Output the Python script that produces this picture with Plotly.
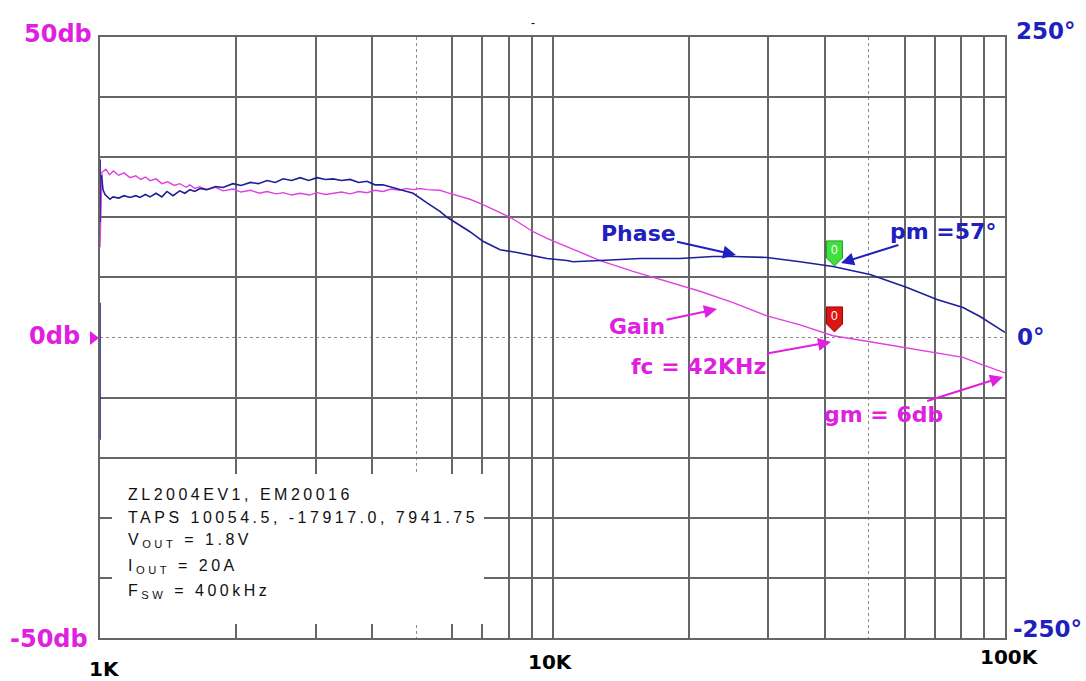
import math
import plotly.graph_objects as go

# ---------------- data ----------------
gain_freq_hz = [1000, 1000, 1010, 1030, 1050, 1070, 1100, 1130, 1165, 1200, 1230, 1260, 1290, 1330,
                1370, 1410, 1460, 1500, 1550, 1580, 1620, 1660, 1720, 1800, 1870, 1970, 2050, 2150,
                2250, 2340, 2450, 2540, 2650, 2770, 2900, 3020, 3150, 3270, 3420, 3570, 3730, 3890,
                4050, 4220, 4400, 4600, 4750, 4920, 5100, 5280, 5640, 5850, 6200, 6570, 7020, 7660,
                8060, 8350, 9060, 9720, 10760, 11100, 12740, 15070, 17900, 21180, 25060, 29790,
                35240, 41690, 50310, 60740, 70750, 80760, 88070, 100000]
gain_db = [29.6, 15.0, 27.5, 28.0, 27.1, 27.7, 27.0, 27.4, 26.6, 26.9, 26.3, 26.7, 26.1, 26.4,
           25.6, 25.9, 25.3, 25.6, 25.0, 25.4, 24.8, 25.1, 24.6, 25.0, 24.4, 24.7, 24.2, 24.5,
           24.0, 24.3, 23.9, 24.1, 23.7, 24.0, 23.7, 24.1, 23.8, 24.0, 24.2, 23.9, 24.3, 24.1,
           24.5, 24.3, 24.7, 24.5, 24.8, 24.6, 24.8, 24.6, 24.5, 24.1, 23.6, 23.0, 22.1, 20.8,
           20.0, 19.3, 17.6, 16.5, 15.1, 14.6, 12.8, 11.0, 9.3, 7.7, 5.8, 3.6,
           2.1, 0.3, -0.7, -1.7, -2.5, -3.3, -4.4, -5.9]

phase_freq_hz = [1000, 1000, 1000, 1000, 1000, 1000, 1008, 1015, 1026, 1052, 1068, 1100, 1130, 1165,
                 1200, 1226, 1260, 1290, 1330, 1370, 1406, 1450, 1500, 1540, 1581, 1620, 1663, 1720,
                 1800, 1870, 1967, 2050, 2150, 2240, 2340, 2440, 2540, 2650, 2770, 2890, 3020, 3150,
                 3270, 3420, 3570, 3730, 3890, 4050, 4220, 4400, 4600, 4920, 5280, 5640, 5850, 6570,
                 7020, 7660, 8350, 9060, 9720, 10760, 11100, 12740, 15610, 19130, 22630, 25060,
                 29790, 35240, 41690, 50310, 60740, 70750, 80760, 88070, 100000]
phase_deg = [148, 96, None, 29, -85, None, 135, 123, 119, 115, 117, 116, 118, 116.5,
             118, 116.5, 119, 117, 120, 117, 121.5, 118, 122, 120, 123, 121.5, 124, 123,
             125.6, 124.8, 128, 126.5, 129, 128, 130.6, 129, 132, 130.6, 133, 130.6, 133, 131.5,
             132, 130.6, 131.5, 129, 130, 127, 127, 125, 123, 120, 112, 105, 100, 88,
             80, 73, 70.7, 68, 65.7, 64, 63, 64, 65.7, 65.7, 67.4, 67.4,
             66.6, 63, 59, 52.4, 41.6, 31.6, 25, 17.5, 4.2]

x_tick_freqs = [1000, 10000, 100000]
x_tick_labels = ["1K", "10K", "100K"]
gain_tick_vals = [50, 0, -50]
gain_tick_labels = ["50db", "0db", "-50db"]
phase_tick_vals = [250, 0, -250]
phase_tick_labels = ["250°", "0°", "-250°"]

info_lines = ["ZL2004EV1, EM20016",
              "TAPS 10054.5, -17917.0, 7941.75",
              "V<sub>OUT</sub> = 1.8V",
              "I<sub>OUT</sub> = 20A",
              "F<sub>SW</sub> = 400kHz"]

fc_hz = 42000

# ---------------- layout geometry ----------------
W, H = 1086, 681
ML, MR, MT, MB = 100, 81, 37, 43
PW, PH = W - ML - MR, H - MT - MB

def px(xp):
    return (xp - ML) / PW

def py(yp):
    return (H - MB - yp) / PH

MAG = "#E020E0"
MAG_LINE = "#E040E0"
BLUE = "#2020C0"
NAVY = "#1E1E98"
GRID = "#666666"
FONT = "DejaVu Sans"

fig = go.Figure()
fig.add_trace(go.Scatter(x=phase_freq_hz, y=phase_deg, yaxis="y2", mode="lines",
                         line=dict(color=NAVY, width=1.6), name="Phase", connectgaps=False))
fig.add_trace(go.Scatter(x=gain_freq_hz, y=gain_db, mode="lines",
                         line=dict(color=MAG_LINE, width=1.4), name="Gain"))

x_major = [2000, 3000, 4000, 6000, 7000, 8000, 9000, 10000,
           20000, 30000, 40000, 60000, 70000, 80000, 90000]
y_major = [-40, -30, -20, -10, 10, 20, 30, 40]

fig.update_layout(
    width=W, height=H, showlegend=False,
    margin=dict(l=ML, r=MR, t=MT, b=MB, autoexpand=False),
    paper_bgcolor="white", plot_bgcolor="white",
    xaxis=dict(type="log", range=[3, 5], showticklabels=False, ticks="",
               tickmode="array", tickvals=x_major, showgrid=True, gridcolor=GRID, gridwidth=1.6,
               zeroline=False, showline=True, mirror=True, linecolor=GRID, linewidth=1.6,
               minor=dict(tickmode="array", tickvals=[5000, 50000], showgrid=True,
                          griddash="dot", gridcolor="#8a8a8a", gridwidth=1, ticks="")),
    yaxis=dict(range=[-50, 50], showticklabels=False, ticks="", tickmode="array",
               tickvals=y_major, showgrid=True, gridcolor=GRID, gridwidth=1.6, zeroline=False,
               showline=True, mirror=True, linecolor=GRID, linewidth=1.6,
               minor=dict(tickmode="array", tickvals=[0], showgrid=True, griddash="dot",
                          gridcolor="#8a8a8a", gridwidth=1, ticks="")),
    yaxis2=dict(range=[-250, 250], overlaying="y", side="right", showgrid=False,
                showticklabels=False, ticks="", zeroline=False, showline=False),
)

shapes = []
annotations = []

# white info box covering the grid
shapes.append(dict(type="rect", xref="paper", yref="paper", x0=px(112), x1=px(484),
                   y0=py(624), y1=py(474), fillcolor="white", line=dict(width=0), layer="above"))

info_y = [494, 517, 540, 566, 591]
for t, yy in zip(info_lines, info_y):
    annotations.append(dict(text=t, align="left",
                            xref="paper", yref="paper", x=px(126), y=py(yy),
                            xanchor="left", yanchor="middle", showarrow=False,
                            font=dict(family="Liberation Sans", size=16, color="#111111")))
n_info = len(info_lines)

# axis labels
x_shift = [4, -2, 4]
x_label_y = [669, 662, 657]
for f, lab, sh, yy in zip(x_tick_freqs, x_tick_labels, x_shift, x_label_y):
    annotations.append(dict(text=lab, xref="x", yref="paper", x=math.log10(f), y=py(yy),
                            xshift=sh, xanchor="center", yanchor="middle", showarrow=False,
                            font=dict(family=FONT, size=20, color="black", weight="bold")))

gain_right = [94, 82, 90]
gain_shift = [3, 2, -1]
for v, lab, r, sh in zip(gain_tick_vals, gain_tick_labels, gain_right, gain_shift):
    annotations.append(dict(text=lab, xref="paper", yref="y", x=px(r), y=v, yshift=sh,
                            xanchor="right", yanchor="middle", showarrow=False,
                            font=dict(family=FONT, size=24, color=MAG, weight="bold")))

phase_left = [1014, 1015, 1011]
phase_shift = [6, 1, 9]
for v, lab, l, sh in zip(phase_tick_vals, phase_tick_labels, phase_left, phase_shift):
    annotations.append(dict(text=lab, xref="paper", yref="y2", x=px(l), y=v, yshift=sh,
                            xanchor="left", yanchor="middle", showarrow=False,
                            font=dict(family=FONT, size=23, color=BLUE, weight="bold")))

# 0db pointer triangle
shapes.append(dict(type="path", xref="paper", yref="paper",
                   path=f"M {px(90)},{py(331)} L {px(99)},{py(338)} L {px(90)},{py(345)} Z",
                   fillcolor=MAG, line=dict(width=0)))

# curve labels with arrows: text centre and arrow head (pixels)
labels = [("Phase", (638, 233), (736, 255), BLUE),
          ("pm =57°", (943, 231), (841, 263), BLUE),
          ("Gain", (637, 326), (717, 309), MAG),
          ("fc = 42KHz", (698, 366), (831, 342), MAG),
          ("gm = 6db", (883, 415), (1003, 377), MAG)]
for t, (cx, cy), (hx, hy), c in labels:
    annotations.append(dict(text=t, xref="paper", yref="paper", x=px(hx), y=py(hy),
                            ax=cx - hx, ay=cy - hy, showarrow=True, arrowhead=2,
                            arrowsize=1.3, arrowwidth=2, arrowcolor=c, standoff=0,
                            font=dict(family=FONT, size=22, color=c, weight="bold")))

# flags at the crossover frequency
def interp(fx, fs, vs):
    pts = [(f, v) for f, v in zip(fs, vs) if v is not None and f > 1000]
    for (f0, v0), (f1, v1) in zip(pts[:-1], pts[1:]):
        if f0 <= fx <= f1:
            t = (math.log10(fx) - math.log10(f0)) / (math.log10(f1) - math.log10(f0))
            return v0 + t * (v1 - v0)
    return pts[-1][1]

fc_px = ML + (math.log10(fc_hz) - 3) / 2 * PW
phase_at_fc = interp(fc_hz, phase_freq_hz, phase_deg)
gain_at_fc = interp(fc_hz, gain_freq_hz, gain_db)
green_tip = MT + (250 - phase_at_fc) / 500 * PH - 1
red_tip = MT + (50 - gain_at_fc) / 100 * PH - 4

for tip, fill, edge in [(green_tip, "#3ee03e", "#22a022"), (red_tip, "#dd1414", "#a00000")]:
    x0, x1, xm = fc_px - 8, fc_px + 8, fc_px
    path = (f"M {px(x0)},{py(tip-25)} L {px(x1)},{py(tip-25)} L {px(x1)},{py(tip-8)} "
            f"L {px(xm)},{py(tip)} L {px(x0)},{py(tip-8)} Z")
    shapes.append(dict(type="path", xref="paper", yref="paper", path=path,
                       fillcolor=fill, line=dict(color=edge, width=1), layer="above"))
    annotations.append(dict(text="0", xref="paper", yref="paper", x=px(xm), y=py(tip - 16),
                            xanchor="center", yanchor="middle", showarrow=False,
                            font=dict(family="Liberation Sans", size=12, color="white")))

# small mark at the top
annotations.append(dict(text="-", xref="paper", yref="paper", x=px(533), y=py(23),
                        xanchor="center", yanchor="middle", showarrow=False,
                        font=dict(family="Liberation Sans", size=12, color="black")))

fig.update_layout(shapes=shapes, annotations=annotations)

# widen the letter spacing of the info-box lines (as in the original instrument printout)
spacing_js = """
document.querySelectorAll('g.annotation').forEach(function(g){
  var i = parseInt(g.getAttribute('data-index'));
  if (i < %d) {
    var t = g.querySelector('text.annotation-text');
    if (t) { t.style.letterSpacing = '3.5px'; }
  }
});
""" % n_info
fig.write_html("out.html", post_script=spacing_js)
